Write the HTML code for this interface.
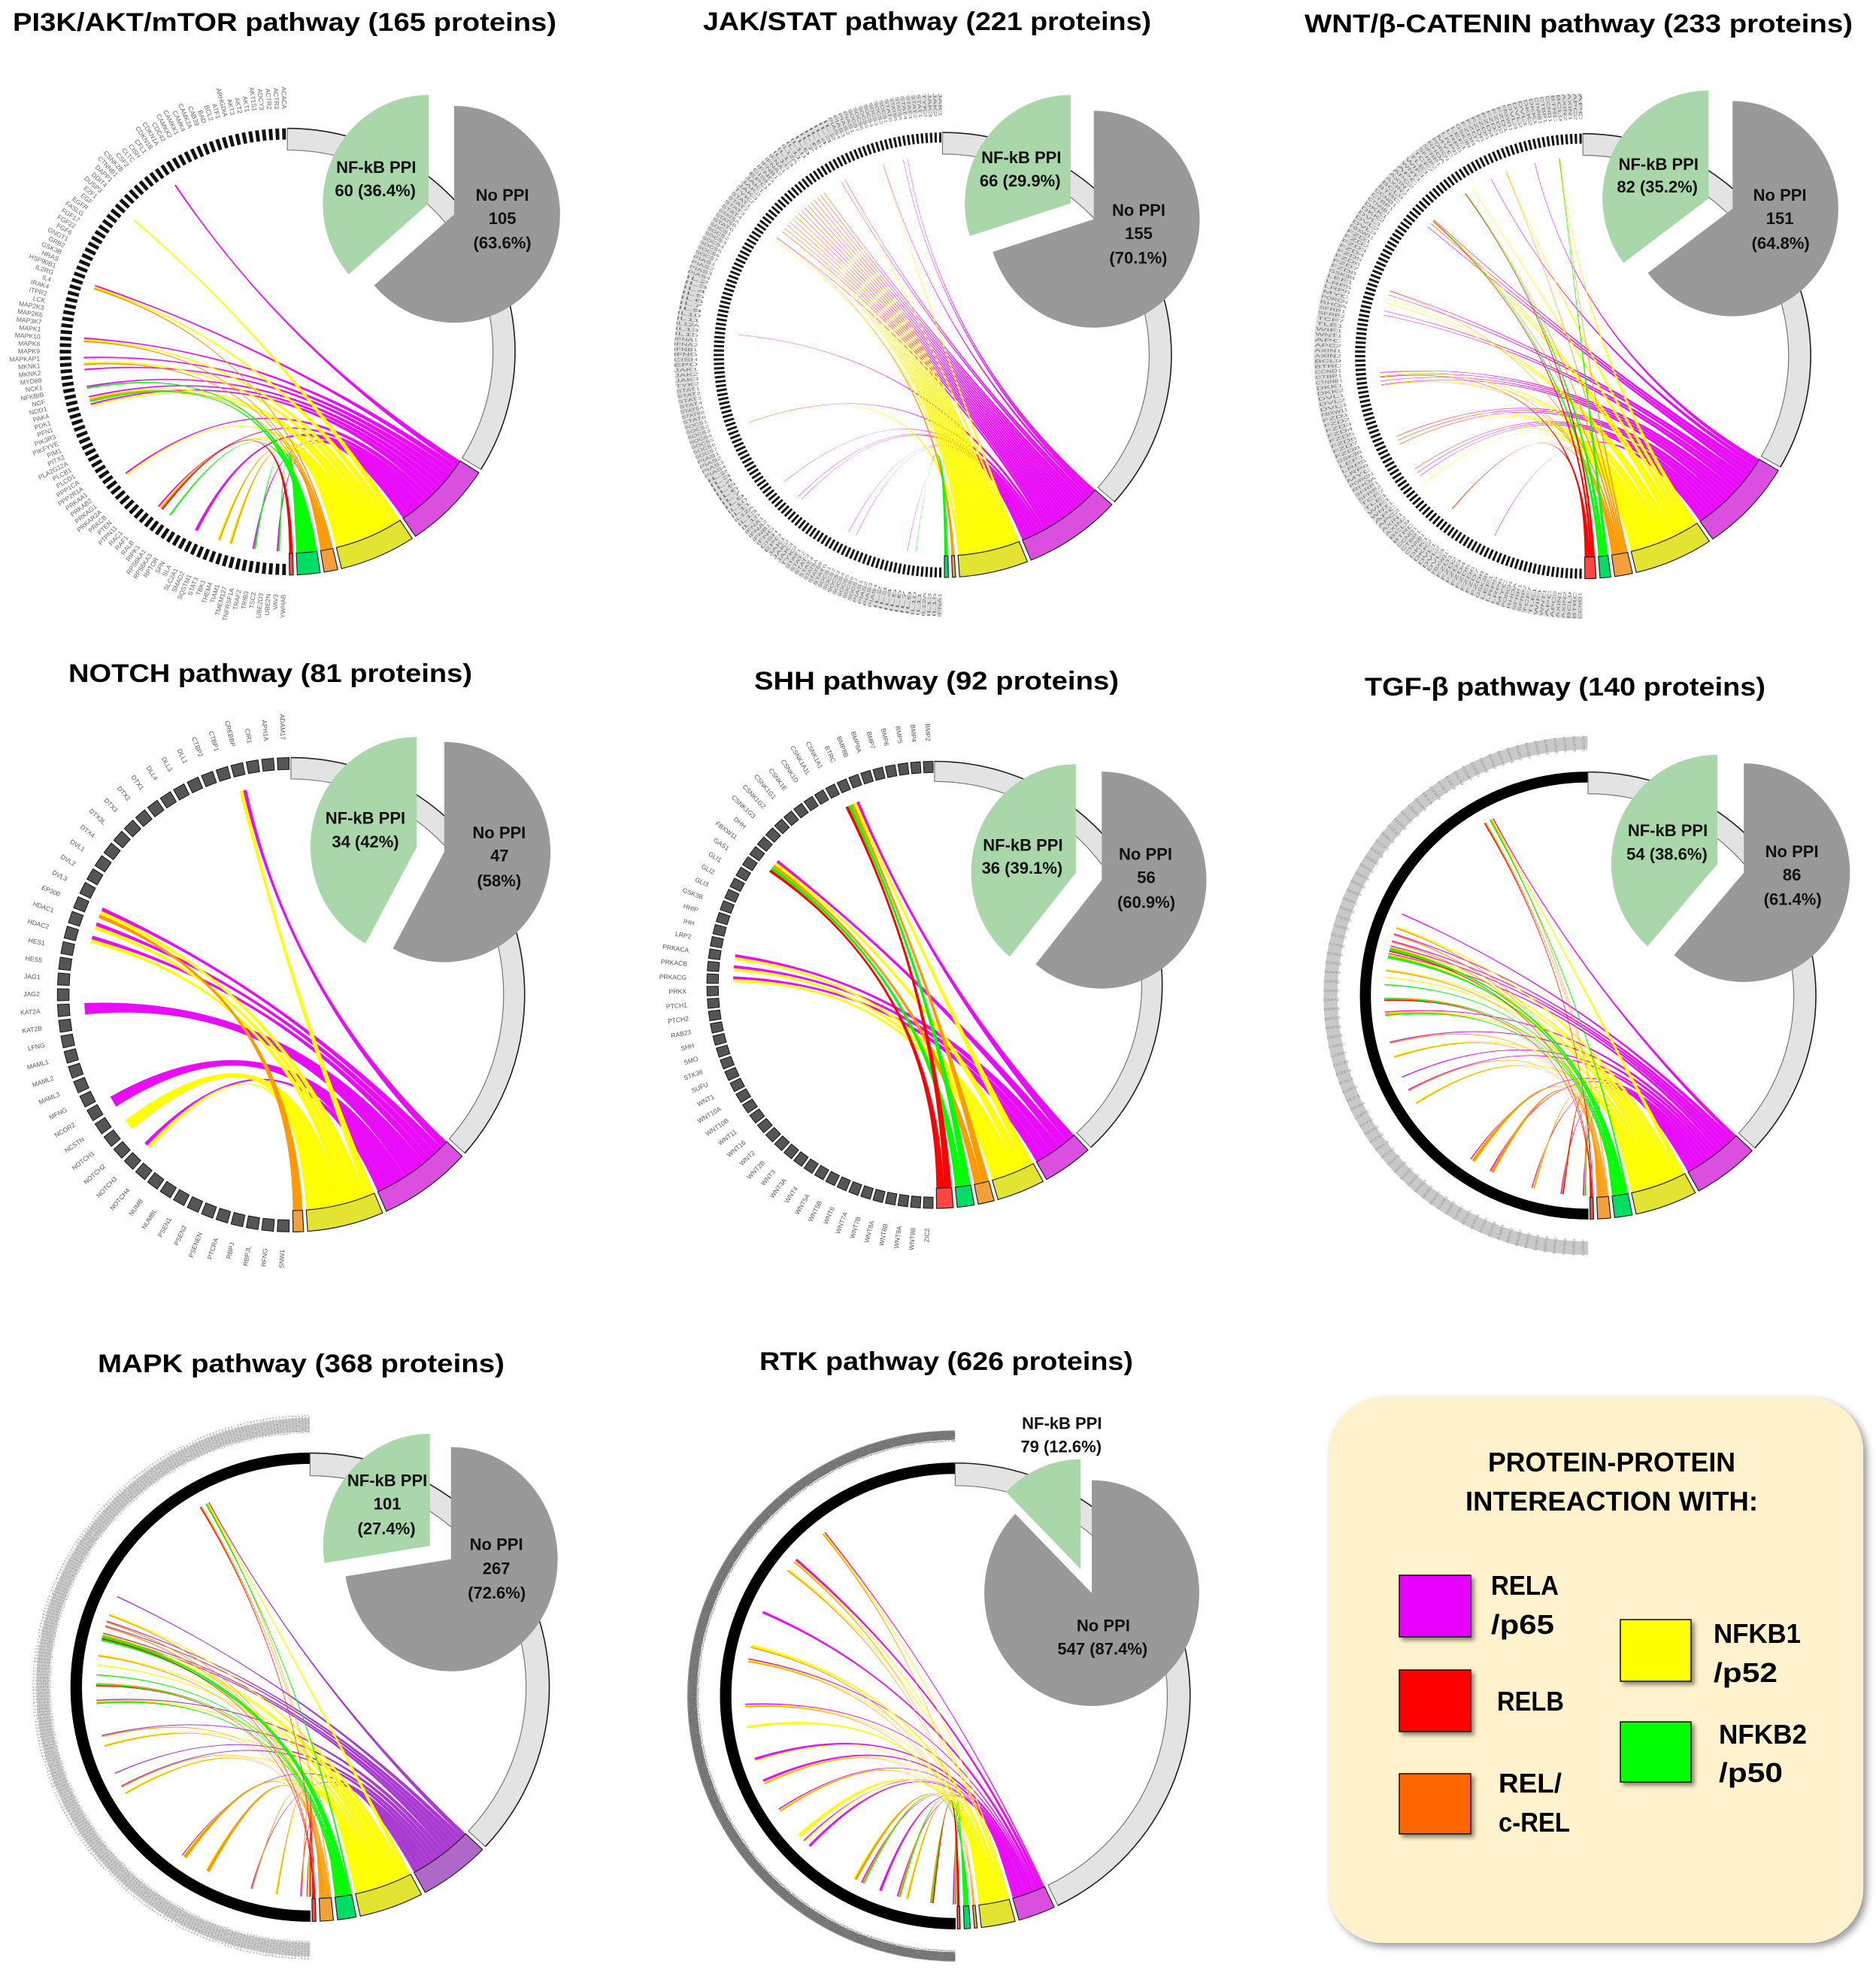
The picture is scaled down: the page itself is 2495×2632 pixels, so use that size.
<!DOCTYPE html>
<html lang="en">
<head>
<meta charset="utf-8">
<title>NF-kB protein-protein interactions by signalling pathway</title>
<style>
html,body{margin:0;padding:0;background:#fff}
svg{display:block}
text{font-family:"Liberation Sans",sans-serif}
.t{font-weight:bold;font-size:34px;fill:#000}
.l{font-weight:bold;font-size:36px;fill:#000}
.p{font-weight:bold;font-size:22px;fill:#111;text-anchor:middle}
</style>
</head>
<body>
<svg xmlns="http://www.w3.org/2000/svg" width="2495" height="2632" viewBox="0 0 2495 2632">
<defs>
<filter id="boxShadow" x="-5%" y="-5%" width="112%" height="112%"><feDropShadow dx="5" dy="5" stdDeviation="5" flood-color="#000" flood-opacity=".4"/></filter>
<filter id="swatchShadow" x="-20%" y="-20%" width="150%" height="150%"><feDropShadow dx="4" dy="4" stdDeviation="3" flood-color="#000" flood-opacity=".45"/></filter>
</defs>
<rect width="2495" height="2632" fill="#fff"/>
<g id="pi3k"><text class="t" x="17" y="41" textLength="723" lengthAdjust="spacingAndGlyphs">PI3K/AKT/mTOR pathway (165 proteins)</text></g>
<g id="jak"><text class="t" x="935" y="40" textLength="596" lengthAdjust="spacingAndGlyphs">JAK/STAT pathway (221 proteins)</text></g>
<g id="wnt"><text class="t" x="1735" y="43" textLength="729" lengthAdjust="spacingAndGlyphs">WNT/β-CATENIN pathway (233 proteins)</text></g>
<g id="notch"><text class="t" x="91" y="907" textLength="537" lengthAdjust="spacingAndGlyphs">NOTCH pathway (81 proteins)</text></g>
<g id="shh"><text class="t" x="1003" y="917" textLength="485" lengthAdjust="spacingAndGlyphs">SHH pathway (92 proteins)</text></g>
<g id="tgf"><text class="t" x="1815" y="925" textLength="533" lengthAdjust="spacingAndGlyphs">TGF-β pathway (140 proteins)</text></g>
<g id="mapk"><text class="t" x="130" y="1825" textLength="541" lengthAdjust="spacingAndGlyphs">MAPK pathway (368 proteins)</text></g>
<g id="rtk"><text class="t" x="1010" y="1822" textLength="497" lengthAdjust="spacingAndGlyphs">RTK pathway (626 proteins)</text></g>

<g transform="translate(3,2)">
<rect x="1764" y="1856" width="711" height="726" rx="72" ry="72" fill="#fff2cc" filter="url(#boxShadow)"/>
<text class="l" x="1976" y="1955" textLength="329" lengthAdjust="spacingAndGlyphs">PROTEIN-PROTEIN</text>
<text class="l" x="1946" y="2007" textLength="389" lengthAdjust="spacingAndGlyphs">INTEREACTION WITH:</text>
<rect x="1858" y="2093" width="95" height="82" fill="#e800ff" stroke="#111" stroke-width="1.5" filter="url(#swatchShadow)"/>
<rect x="1858" y="2219" width="95" height="82" fill="#ff0000" stroke="#111" stroke-width="1.5" filter="url(#swatchShadow)"/>
<rect x="1858" y="2357" width="95" height="80" fill="#ff6600" stroke="#111" stroke-width="1.5" filter="url(#swatchShadow)"/>
<rect x="2152" y="2152" width="94" height="82" fill="#ffff00" stroke="#111" stroke-width="1.5" filter="url(#swatchShadow)"/>
<rect x="2152" y="2288" width="94" height="80" fill="#00ff00" stroke="#111" stroke-width="1.5" filter="url(#swatchShadow)"/>
<text class="l" x="1980" y="2119" textLength="90" lengthAdjust="spacingAndGlyphs">RELA</text>
<text class="l" x="1980" y="2171" textLength="84" lengthAdjust="spacingAndGlyphs">/p65</text>
<text class="l" x="1988" y="2273" textLength="89" lengthAdjust="spacingAndGlyphs">RELB</text>
<text class="l" x="1990" y="2382" textLength="84" lengthAdjust="spacingAndGlyphs">REL/</text>
<text class="l" x="1990" y="2434" textLength="95" lengthAdjust="spacingAndGlyphs">c-REL</text>
<text class="l" x="2276" y="2183" textLength="116" lengthAdjust="spacingAndGlyphs">NFKB1</text>
<text class="l" x="2276" y="2235" textLength="85" lengthAdjust="spacingAndGlyphs">/p52</text>
<text class="l" x="2283" y="2317" textLength="117" lengthAdjust="spacingAndGlyphs">NFKB2</text>
<text class="l" x="2283" y="2368" textLength="85" lengthAdjust="spacingAndGlyphs">/p50</text>
</g>
</svg>

<script>
// Pie values: [NF-kB PPI proteins, no-PPI proteins]
const pi3kCounts = [60, 105];
const jakCounts = [66, 155];
const wntCounts = [82, 151];
const notchCounts = [34, 47];
const shhCounts = [36, 56];
const tgfCounts = [54, 86];
const mapkCounts = [101, 267];
const rtkCounts = [79, 547];

// Printed pie labels
const pi3kPieText = ["NF-kB PPI", "60 (36.4%)", "No PPI", "105", "(63.6%)"];
const jakPieText = ["NF-kB PPI", "66 (29.9%)", "No PPI", "155", "(70.1%)"];
const wntPieText = ["NF-kB PPI", "82 (35.2%)", "No PPI", "151", "(64.8%)"];
const notchPieText = ["NF-kB PPI", "34 (42%)", "No PPI", "47", "(58%)"];
const shhPieText = ["NF-kB PPI", "36 (39.1%)", "No PPI", "56", "(60.9%)"];
const tgfPieText = ["NF-kB PPI", "54 (38.6%)", "No PPI", "86", "(61.4%)"];
const mapkPieText = ["NF-kB PPI", "101", "(27.4%)", "No PPI", "267", "(72.6%)"];
const rtkPieText = ["NF-kB PPI", "79 (12.6%)", "No PPI", "547 (87.4%)"];

// Ring arc shares: [NF-kB protein arc, then one share per subunit in panel order]
const pi3kArcs = [122, 23, 19.5, 3.5, 5.8, 1];
const jakArcs = [131.5, 25, 17.5, 0.8, 1, 0];
const wntArcs = [119, 24.2, 20, 4.5, 2.7, 2.8];
const notchArcs = [131.3, 22.9, 18.9, 2.6, 0, 0];
const shhArcs = [135.7, 12.8, 12.2, 4.1, 4.3, 4.2];
const tgfArcs = [133.1, 17, 15.9, 4.5, 3.3, 0.9];
const mapkArcs = [132.5, 17.3, 15.6, 4.5, 3.2, 0.9];
const rtkArcs = [154.6, 9.2, 8.4, 0.7, 1.5, 0.7];

// Chords: index of the partner protein on the ring, per NF-kB subunit. A repeat = a heavier ribbon.
const pi3kRela = [19,41,50,53,55,58,60,61,74,82,89,89,99,103];
const pi3kNfkb1 = [28,41,50,54,60,61,74,82,93,95];
const pi3kRel = [41,50,54,60,82,93,95];
const pi3kNfkb2 = [58,60,84,99,103];
const pi3kRelb = [82];

const jakRela = [8,9,14,24,25,30,31,32,33,34,35,36,37,38,39,40,41,42,43,44,46,72,94,111,116,117,131,133,146];
const jakNfkb1 = [14,24,30,31,32,33,34,35,36,37,38,39,40,41,42,43,44,47,94];
const jakRel = [46];
const jakNfkb2 = [148];
const jakRelb = [];

const wntRela = [11,22,39,40,41,59,60,64,65,79,80,81,82,95,96,97,104,105,106,129];
const wntNfkb1 = [5,18,27,39,40,61,62,80,82,95,96,97,104,108];
const wntRel = [5,18,29,39,59,79,82,117];
const wntNfkb2 = [5,29,39];
const wntRelb = [29,39,80,117];

const notchRela = [3,17,18,19,24,24,24,31,31,31,35];
const notchNfkb1 = [3,17,18,19,33,33,33,35];
const notchRel = [17];
const notchNfkb2 = [];
const notchRelb = [];

const shhRela = [7,16,25,26,27];
const shhNfkb1 = [7,16,25,26,27];
const shhRel = [7,16];
const shhNfkb2 = [7,16];
const shhRelb = [7,16];

const tgfRela = [13,31,34,35,36,37,45,49,54,56,69,72,78,82,85];
const tgfNfkb1 = [13,33,36,37,39,40,45,51,58,69,78];
const tgfRel = [13,14,33,34,35,36,37,39,43,45,49,51,56,58,69,69,69,72,72,72,78,82,85];
const tgfNfkb2 = [13,36,36,37,37,41,43,45,85];
const tgfRelb = [14,36,43,82];

const mapkRela = [42,95,106,108,112,113,139,153,169,175,213,243,263,266];
const mapkNfkb1 = [42,103,112,113,120,124,139,157,178,213,224,253,266];
const mapkRel = [42,45,103,106,108,112,113,120,132,139,153,157,175,178,213,213,213,224,224,224,243,253,263];
const mapkNfkb2 = [42,112,112,113,113,128,132,139,266];
const mapkRelb = [45,112,132,266];

const rtkRela = [117,150,150,201,201,243,281,327,327,347,347,374,407,413,413,467,483,483,499,546];
const rtkNfkb1 = [117,150,160,231,231,243,281,299,299,327,347,374,401,401,401,407,460,506];
const rtkRel = [117,150,160,231,243,281,347,374,460,460,467,499,506,527,546];
const rtkNfkb2 = [467,499,527,546];
const rtkRelb = [527];

// Gene labels around the ring
const pi3kGenes = ["ACACA","ACTR3","ACTR2","ADCY3","AKT1S1","AKT1","AKT2","AKT3","ARHGDIA","ATF1","BCL2","BAD","CAB39","CAMK2A","CAMK4","CAMKK1","CAMKK2","CDC42","CDKN1A","CDKN1B","CFL1","CISH","CLTC","CSF2","CSNK2B","CTNNB1","DAPP1","DDIT4","DUSP3","E2F1","EGF","EGFR","FASLG","FGF17","FGF22","FGF6","GNGT1","GRB2","GSK3B","HRAS","HSP90B1","IL2RG","IL4","IRAK4","ITPR2","LCK","MAP2K3","MAP2K6","MAP3K7","MAPK1","MAPK10","MAPK8","MAPK9","MAPKAP1","MKNK1","MKNK2","MYD88","NCK1","NFKBIB","NGF","NOD1","PAK4","PDK1","PFN1","PIK3R3","PIKFYVE","PIM1","PITX2","PLA2G12A","PLCB1","PLCD1","PPP1CA","PPP2R1A","PRKAA1","PRKAB2","PRKAG1","PRKAR2A","PRKCB","PTEN","PTPN11","RAC1","RAF1","RALB","RIPK1","RPS6KA1","RPS6KA3","RPTOR","SFN","SLA","SLC2A1","SMAD2","SQSTM1","STAT3","TBK1","THEM4","TIAM1","TMEM127","TNFRSF1A","TRAF2","TRIB3","TSC2","UBE2D3","UBE2N","VAV3","YWHAB"];
const notchGenes = ["ADAM17","APH1A","CIR1","CREBBP","CTBP1","CTBP2","DLL1","DLL3","DLL4","DTX1","DTX2","DTX3","DTX3L","DTX4","DVL1","DVL2","DVL3","EP300","HDAC1","HDAC2","HES1","HES5","JAG1","JAG2","KAT2A","KAT2B","LFNG","MAML1","MAML2","MAML3","MFNG","NCOR2","NCSTN","NOTCH1","NOTCH2","NOTCH3","NOTCH4","NUMB","NUMBL","PSEN1","PSEN2","PSENEN","PTCRA","RBPJ","RBPJL","RFNG","SNW1"];
const shhGenes = ["BMP2","BMP4","BMP5","BMP6","BMP7","BMP8A","BMP8B","BTRC","CSNK1A1","CSNK1A1L","CSNK1D","CSNK1E","CSNK1G1","CSNK1G2","CSNK1G3","DHH","FBXW11","GAS1","GLI1","GLI2","GLI3","GSK3B","HHIP","IHH","LRP2","PRKACA","PRKACB","PRKACG","PRKX","PTCH1","PTCH2","RAB23","SHH","SMO","STK36","SUFU","WNT1","WNT10A","WNT10B","WNT11","WNT16","WNT2","WNT2B","WNT3","WNT3A","WNT4","WNT5A","WNT5B","WNT6","WNT7A","WNT7B","WNT8A","WNT8B","WNT9A","WNT9B","ZIC2"];
const jakGenes = ["JAK1","JAK2","JAK3","TYK2","STAT1","STAT2","STAT3","STAT4","STAT5A","STAT5B","STAT6","SOCS1","SOCS2","SOCS3","SOCS4","SOCS5","SOCS6","SOCS7","PIAS1","PIAS2","PIAS3","PIAS4","IL2","IL3","IL4","IL5","IL6","IL7","IL9","IL10","IL11","IL12A","IL13","IL15","IFNA1","IFNA2","IFNB1","IFNG","CISH","EPO"];
const wntGenes = ["APC","APC2","AXIN1","AXIN2","BCL9","BTRC","CCND1","CTBP1","CTNNB1","DKK1","DKK2","DVL1","DVL2","DVL3","FBXW11","FZD1","FZD2","FZD3","FZD4","FZD5","FZD6","FZD7","FZD8","GSK3B","LEF1","LRP5","LRP6","MYC","PORCN","RHOA","SFRP1","SFRP2","TCF7","TLE1","WIF1","WNT1"];
const tgfGenes = ["ACVR1","ACVR1B","ACVR2A","ACVR2B","AMH","AMHR2","BAMBI","BMP2","BMP4","BMPR1A","BMPR2","CDKN2B","CHRD","COMP","DCN","E2F4","FST","GDF5","ID1","INHBA","LTBP1","MYC","NOG","PITX2","RBL1","ROCK1","SKP1","SMAD1","SMAD2","SMAD3","SMAD4","SMAD7","SMURF1","TGFB1","TGFBR1","TGFBR2"];
const mapkGenes = ["AKT1","ARAF","ARRB1","ATF2","BDNF","BRAF","CACNA1A","CASP3","CD14","CDC42","CRK","DAXX","DUSP1","EGFR","ELK1","FAS","FGF1","FGFR1","FOS","GADD45A","GRB2","HRAS","IKBKB","JUN","KRAS","MAP2K1","MAP2K2","MAP3K1","MAPK1","MAPK3","MAX","MYC","NRAS","PAK1","RAC1","RAF1","SOS1","TAB1","TGFB1","TP53"];
const rtkGenes = ["ABL1","AKT1","ALK","AXL","BRAF","CBL","CSF1R","DDR1","EFNA1","EGFR","EPHA1","EPHB1","ERBB2","ERBB3","ERBB4","FGFR1","FGFR2","FLT1","FLT3","GAB1","GRB2","HGF","IGF1R","INSR","KDR","KIT","MET","NTRK1","PDGFRA","PDGFRB","PIK3CA","PLCG1","RET","ROS1","SHC1","SOS1","SRC","TEK","TIE1","VEGFA"];

const subunits = ["rela","nfkb1","rel","nfkb2","relb"];
const chordColor = {rela:"#e80cfa",nfkb1:"#ffff00",rel:"#ff9900",nfkb2:"#00ff00",relb:"#ff0000"};
const arcColor = {rela:"#da4fe0",nfkb1:"#e3e332",rel:"#f2a03c",nfkb2:"#00dd66",relb:"#ff4444"};
const ORDER_A = ["rela","nfkb1","rel","nfkb2","relb"];
const ORDER_B = ["rela","nfkb1","nfkb2","rel","relb"];

const panels = [
 {id:"pi3k",counts:pi3kCounts,pie:pi3kPieText,arcs:pi3kArcs,order:ORDER_A,chords:{rela:pi3kRela,nfkb1:pi3kNfkb1,rel:pi3kRel,nfkb2:pi3kNfkb2,relb:pi3kRelb},genes:pi3kGenes,
  ox:0,oy:0,sx:1.889,sy:1.845,cx:722,cy:863,rx:572,ry:548,gray:[1141,526,266],green:[1077,499,266],
  textPos:[[945,410],[943,467],[1262,478],[1262,535],[1262,595]],
  inner:.903,tick0:.95,src:.895,srcW:2.1,tickRatio:.55,tickFill:"#111",tickStroke:"none",labelEnd:1.087,labelSize:8.6,labelLen:0,labelFill:"#666"},
 {id:"jak",counts:jakCounts,pie:jakPieText,arcs:jakArcs,order:ORDER_A,chords:{rela:jakRela,nfkb1:jakNfkb1,rel:jakRel,nfkb2:jakNfkb2,relb:jakRelb},genes:jakGenes,
  ox:830,oy:0,sx:1.889,sy:1.845,cx:800,cy:871,rx:575,ry:546,gray:[1180,538,266],green:[1122,499,266],
  textPos:[[998,386],[995,443],[1293,515],[1293,572],[1292,632]],
  inner:.903,tick0:.955,src:.895,srcW:.45,tickRatio:.5,tickFill:"#111",tickStroke:"none",labelEnd:1.07,labelSize:6,labelLen:32,labelFill:"#777",band:[1.09,1.17,"#dcdcdc"]},
 {id:"wnt",counts:wntCounts,pie:wntPieText,arcs:wntArcs,order:ORDER_A,chords:{rela:wntRela,nfkb1:wntNfkb1,rel:wntRel,nfkb2:wntNfkb2,relb:wntRelb},genes:wntGenes,
  ox:1660,oy:0,sx:1.878,sy:1.845,cx:836,cy:874,rx:569,ry:546,gray:[1210,512,264],green:[1150,487,265],
  textPos:[[1025,402],[1022,458],[1328,478],[1328,535],[1330,596]],
  inner:.903,tick0:.955,src:.895,srcW:.6,tickRatio:.5,tickFill:"#111",tickStroke:"none",labelEnd:1.06,labelSize:6,labelLen:36,labelFill:"#777",band:[1.08,1.18,"#dcdcdc"]},
 {id:"notch",counts:notchCounts,pie:notchPieText,arcs:notchArcs,order:ORDER_A,chords:{rela:notchRela,nfkb1:notchNfkb1,rel:notchRel,nfkb2:notchNfkb2,relb:notchRelb},genes:notchGenes,
  ox:0,oy:860,sx:1.889,sy:1.823,cx:731,cy:844,rx:587,ry:575,gray:[1116,498,267],green:[1047,486,267],
  textPos:[[918,415],[918,472],[1254,450],[1255,506],[1254,567]],
  inner:.91,tick0:.95,src:.885,srcW:5,tickRatio:.76,tickFill:"#555",tickStroke:"#111",labelEnd:1.075,labelSize:8.6,labelLen:0,labelFill:"#555"},
 {id:"shh",counts:shhCounts,pie:shhPieText,arcs:shhArcs,order:ORDER_A,chords:{rela:shhRela,nfkb1:shhNfkb1,rel:shhRel,nfkb2:shhNfkb2,relb:shhRelb},genes:shhGenes,
  ox:830,oy:860,sx:1.889,sy:1.823,cx:780,cy:820,rx:572,ry:542,gray:[1200,566,263],green:[1135,548,263],
  textPos:[[1002,480],[1000,536],[1310,502],[1312,559],[1312,619]],
  inner:.91,tick0:.95,src:.885,srcW:4,tickRatio:.76,tickFill:"#555",tickStroke:"#111",labelEnd:1.09,labelSize:8.6,labelLen:0,labelFill:"#555"},
 {id:"tgf",counts:tgfCounts,pie:tgfPieText,arcs:tgfArcs,order:ORDER_B,chords:{rela:tgfRela,nfkb1:tgfNfkb1,rel:tgfRel,nfkb2:tgfNfkb2,relb:tgfRelb},genes:tgfGenes,
  ox:1660,oy:860,sx:1.878,sy:1.823,cx:849,cy:846,rx:569,ry:542,gray:[1238,548,265],green:[1172,527,265],
  textPos:[[1048,445],[1046,502],[1358,496],[1358,552],[1360,612]],
  inner:.903,tick0:.955,src:.895,srcW:1.5,tickRatio:1,tickFill:"#000",tickStroke:"#000",labelEnd:1.09,labelSize:5,labelLen:22,labelFill:"#999",band:[1.1,1.16,"#c9c9c9"]},
 {id:"mapk",counts:mapkCounts,pie:mapkPieText,arcs:mapkArcs,order:ORDER_B,chords:{rela:mapkRela,nfkb1:mapkNfkb1,rel:mapkRel,nfkb2:mapkNfkb2,relb:mapkRelb},genes:mapkGenes,
  ox:0,oy:1760,sx:1.889,sy:1.798,cx:779,cy:870,rx:601,ry:560,gray:[1133,564,268],green:[1080,532,268],
  textPos:[[973,375],[973,431],[971,490],[1247,528],[1247,585],[1248,644]],
  inner:.903,tick0:.955,src:.895,srcW:1.5,tickRatio:1,tickFill:"#000",tickStroke:"#000",labelEnd:1.08,labelSize:3.5,labelLen:26,labelFill:"#999",band:[1.09,1.15,"#cccccc"],relaColor:"#a93bd3",relaArc:"#b068c8"},
 {id:"rtk",counts:rtkCounts,pie:rtkPieText,arcs:rtkArcs,order:ORDER_A,chords:{rela:rtkRela,nfkb1:rtkNfkb1,rel:rtkRel,nfkb2:rtkNfkb2,relb:rtkRelb},genes:rtkGenes,
  ox:830,oy:1760,sx:1.889,sy:1.798,cx:832,cy:891,rx:590,ry:557,gray:[1175,645,270],green:[1147,588,263],
  textPos:[[1100,238],[1098,294],[1204,722],[1202,778]],
  inner:.903,tick0:.955,src:.895,srcW:1.7,tickRatio:1,tickFill:"#000",tickStroke:"#000",labelEnd:1.09,labelSize:2.5,labelLen:14,labelFill:"#555",band:[1.1,1.14,"#858585"]}
];

const NS = "http://www.w3.org/2000/svg";
const RAD = Math.PI / 180;
const n2 = v => v.toFixed(2);

function ringPoint(g, theta, f) {
  return [g.cx + g.rx * f * Math.sin(theta * RAD), g.cy - g.ry * f * Math.cos(theta * RAD)];
}
function proteinAlpha(i, N) { return (i + .5) / N * 180; }
function arcScale(arcs) {
  const used = arcs.filter(v => v > 0).length;
  const sum = arcs.reduce((a, b) => a + b, 0);
  return (179.5 - used + 1) / sum;
}
function sectorPath(g, t0, t1, f0, f1) {
  const a = ringPoint(g, t0, f1), b = ringPoint(g, t1, f1), c = ringPoint(g, t1, f0), d = ringPoint(g, t0, f0);
  const large = Math.abs(t1 - t0) > 180 ? 1 : 0;
  return "M" + n2(a[0]) + " " + n2(a[1]) + "A" + n2(g.rx * f1) + " " + n2(g.ry * f1) + " 0 " + large + " 1 " + n2(b[0]) + " " + n2(b[1]) +
    "L" + n2(c[0]) + " " + n2(c[1]) + "A" + n2(g.rx * f0) + " " + n2(g.ry * f0) + " 0 " + large + " 0 " + n2(d[0]) + " " + n2(d[1]) + "Z";
}
function wedgePath(ax, ay, rx, ry, t0, t1) {
  const p0 = [ax + rx * Math.sin(t0 * RAD), ay - ry * Math.cos(t0 * RAD)];
  const p1 = [ax + rx * Math.sin(t1 * RAD), ay - ry * Math.cos(t1 * RAD)];
  const large = t1 - t0 > 180 ? 1 : 0;
  return "M" + n2(ax) + " " + n2(ay) + "L" + n2(p0[0]) + " " + n2(p0[1]) + "A" + n2(rx) + " " + n2(ry) + " 0 " + large + " 1 " + n2(p1[0]) + " " + n2(p1[1]) + "Z";
}

function drawPanel(p) {
  const root = document.getElementById(p.id);
  const X = z => p.ox + z / p.sx;
  const Y = z => p.oy + z / p.sy;
  const g = {cx: X(p.cx), cy: Y(p.cy), rx: p.rx / p.sx, ry: p.ry / p.sy};
  const N = p.counts[1];

  // arcs along the ring
  const k = arcScale(p.arcs);
  let cursor = 0;
  const grayEnd = p.arcs[0] * k;
  cursor = grayEnd + 1;
  const arcAt = {};
  p.order.forEach((s, idx) => {
    const v = p.arcs[idx + 1];
    if (v > 0) { arcAt[s] = [cursor, cursor + v * k]; cursor += v * k + 1; }
  });

  // source placement per protein
  const tallies = {};
  subunits.forEach(s => {
    const m = new Map();
    p.chords[s].forEach(i => m.set(i, (m.get(i) || 0) + 1));
    tallies[s] = m;
  });
  const srcDeg = p.srcW / (g.rx * p.src) / RAD;
  const placed = {};
  const proteins = new Set();
  subunits.forEach(s => tallies[s].forEach((w, i) => proteins.add(i)));
  proteins.forEach(i => {
    let total = 0;
    subunits.forEach(s => { total += tallies[s].get(i) || 0; });
    let a = proteinAlpha(i, N) - total * srcDeg / 2;
    subunits.forEach(s => {
      const w = tallies[s].get(i) || 0;
      if (w) {
        placed[s + ":" + i] = [a, a + w * srcDeg];
        a += w * srcDeg;
      }
    });
  });

  // chord ribbons
  const C = n2(g.cx) + " " + n2(g.cy);
  subunits.forEach(s => {
    if (!arcAt[s]) return;
    const m = tallies[s];
    const keys = Array.from(m.keys()).sort((a, b) => a - b);
    const W = p.chords[s].length;
    if (!W) return;
    const span = arcAt[s][1] - arcAt[s][0];
    let t = arcAt[s][0];
    keys.forEach(i => {
      const t2 = t + span * m.get(i) / W;
      const al = placed[s + ":" + i];
      const s1 = ringPoint(g, 360 - al[0], p.src), s2 = ringPoint(g, 360 - al[1], p.src);
      const e1 = ringPoint(g, t, p.inner), e2 = ringPoint(g, t2, p.inner);
      const ribbon = document.createElementNS(NS, "path");
      ribbon.setAttribute("d", "M" + n2(s1[0]) + " " + n2(s1[1]) + "Q" + C + " " + n2(e1[0]) + " " + n2(e1[1]) + "L" + n2(e2[0]) + " " + n2(e2[1]) + "Q" + C + " " + n2(s2[0]) + " " + n2(s2[1]) + "Z");
      ribbon.setAttribute("fill", s === "rela" && p.relaColor ? p.relaColor : chordColor[s]);
      
      
      root.appendChild(ribbon);
      t = t2;
    });
  });

  // label band tone
  if (p.band) {
    const band = document.createElementNS(NS, "path");
    band.setAttribute("d", sectorPath(g, 180, 359.9, p.band[0], p.band[1]));
    band.setAttribute("fill", p.band[2]);
    
    
    root.appendChild(band);
  }

  // protein ticks and labels
  const step = 180 / N;
  for (let i = 0; i < N; i++) {
    const a = proteinAlpha(i, N);
    const half = step * p.tickRatio / 2;
    const pa = ringPoint(g, 360 - a - half, 1), pb = ringPoint(g, 360 - a + half, 1);
    const pc = ringPoint(g, 360 - a + half, p.tick0), pd = ringPoint(g, 360 - a - half, p.tick0);
    const tick = document.createElementNS(NS, "path");
    tick.setAttribute("d", "M" + n2(pa[0]) + " " + n2(pa[1]) + "L" + n2(pb[0]) + " " + n2(pb[1]) + "L" + n2(pc[0]) + " " + n2(pc[1]) + "L" + n2(pd[0]) + " " + n2(pd[1]) + "Z");
    tick.setAttribute("fill", p.tickFill);
    if (p.tickStroke !== "none") { tick.setAttribute("stroke", p.tickStroke); tick.setAttribute("stroke-width", "1"); }
    
    
    root.appendChild(tick);

    const lp = ringPoint(g, 360 - a, p.labelEnd);
    const label = document.createElementNS(NS, "text");
    label.setAttribute("x", n2(lp[0]));
    label.setAttribute("y", n2(lp[1]));
    label.setAttribute("text-anchor", "end");
    label.setAttribute("dominant-baseline", "middle");
    label.setAttribute("font-size", p.labelSize);
    label.setAttribute("fill", p.labelFill);
    label.setAttribute("transform", "rotate(" + n2(90 - a) + " " + n2(lp[0]) + " " + n2(lp[1]) + ")");
    if (p.labelLen) { label.setAttribute("textLength", p.labelLen); label.setAttribute("lengthAdjust", "spacingAndGlyphs"); }
    label.textContent = p.genes[i % p.genes.length];
    
    
    root.appendChild(label);
  }

  // NF-kB protein arc
  const grayArc = document.createElementNS(NS, "path");
  grayArc.setAttribute("d", sectorPath(g, 0, grayEnd, p.inner, 1));
  grayArc.setAttribute("fill", "#e3e3e3");
  grayArc.setAttribute("stroke", "#777");
  grayArc.setAttribute("stroke-width", "1.2");
  
  
  root.appendChild(grayArc);
  const grayEdge = document.createElementNS(NS, "path");
  const ge0 = ringPoint(g, 0, 1), ge1 = ringPoint(g, grayEnd, 1);
  grayEdge.setAttribute("d", "M" + n2(ge0[0]) + " " + n2(ge0[1]) + "A" + n2(g.rx) + " " + n2(g.ry) + " 0 0 1 " + n2(ge1[0]) + " " + n2(ge1[1]));
  grayEdge.setAttribute("fill", "none");
  grayEdge.setAttribute("stroke", "#222");
  grayEdge.setAttribute("stroke-width", "1.6");
  
  
  root.appendChild(grayEdge);

  // subunit arcs
  p.order.forEach(s => {
    if (!arcAt[s]) return;
    const seg = document.createElementNS(NS, "path");
    seg.setAttribute("d", sectorPath(g, arcAt[s][0], arcAt[s][1], p.inner, 1));
    seg.setAttribute("fill", s === "rela" && p.relaArc ? p.relaArc : arcColor[s]);
    seg.setAttribute("stroke", "#222");
    seg.setAttribute("stroke-width", "1.2");
    
    
    root.appendChild(seg);
  });

  // pie
  const noShare = p.counts[1] / (p.counts[0] + p.counts[1]) * 360;
  const grayPie = document.createElementNS(NS, "path");
  grayPie.setAttribute("d", wedgePath(X(p.gray[0]), Y(p.gray[1]), p.gray[2] / p.sx, p.gray[2] / p.sy, 0, noShare));
  grayPie.setAttribute("fill", "#999999");
  
  
  root.appendChild(grayPie);
  const greenPie = document.createElementNS(NS, "path");
  greenPie.setAttribute("d", wedgePath(X(p.green[0]), Y(p.green[1]), p.green[2] / p.sx, p.green[2] / p.sy, noShare, 360));
  greenPie.setAttribute("fill", "#a9d7a9");
  
  
  root.appendChild(greenPie);

  p.pie.forEach((line, idx) => {
    const tx = document.createElementNS(NS, "text");
    tx.setAttribute("class", "p");
    tx.setAttribute("x", n2(X(p.textPos[idx][0])));
    tx.setAttribute("y", n2(Y(p.textPos[idx][1]) + 8));
    tx.textContent = line;
    
    
    root.appendChild(tx);
  });
}
panels.forEach(drawPanel);
</script>
</body>
</html>
